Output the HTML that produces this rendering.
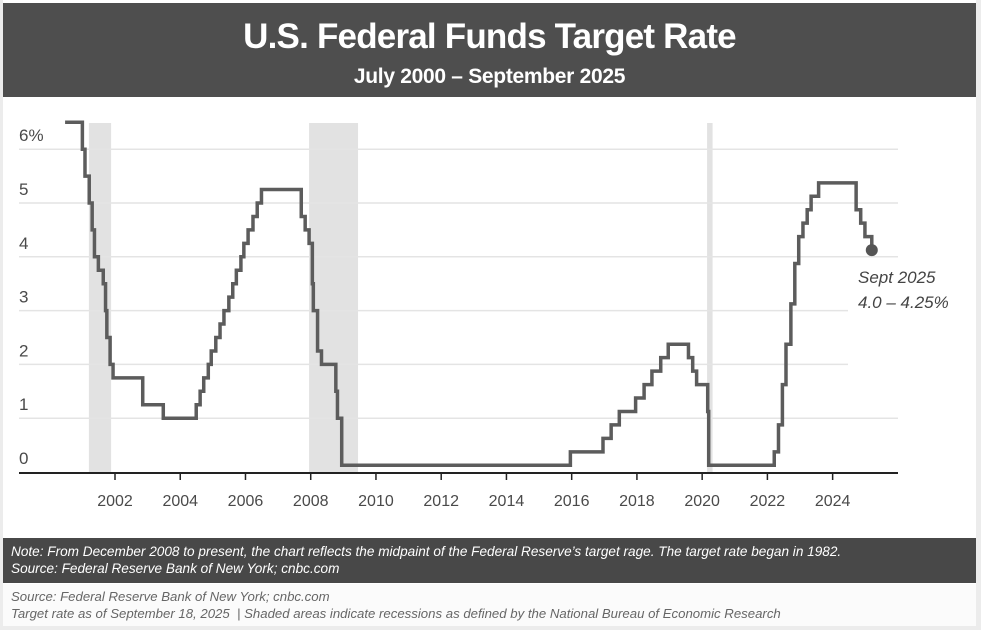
<!DOCTYPE html>
<html><head><meta charset="utf-8">
<style>
html,body{margin:0;padding:0;}
body{width:981px;height:630px;background:#ececec;position:relative;overflow:hidden;font-family:"Liberation Sans",sans-serif;}
#panel{position:absolute;left:3px;top:0;width:973px;height:626px;background:#fff;}
#header{position:absolute;left:3px;top:3px;width:973px;height:94px;background:#4e4e4e;color:#fff;text-align:center;}
#title{font-family:"Liberation Sans Narrow","Liberation Sans",sans-serif;font-weight:bold;font-size:35px;position:absolute;top:14px;width:100%;letter-spacing:-0.8px;}
#subtitle{font-family:"Liberation Sans Narrow","Liberation Sans",sans-serif;font-weight:bold;font-size:21px;position:absolute;top:62px;width:100%;letter-spacing:-0.3px;}
#note{position:absolute;left:3px;top:538px;width:973px;height:45px;background:#484848;color:#fff;font-family:"Liberation Sans Narrow","Liberation Sans",sans-serif;font-style:italic;font-size:13.6px;line-height:17px;}
#note div{padding-left:8px;white-space:nowrap;}
#foot{position:absolute;left:3px;top:584px;width:973px;height:42px;background:#fbfbfb;color:#666;font-family:"Liberation Sans Narrow","Liberation Sans",sans-serif;font-style:italic;font-size:13.2px;line-height:17px;}
#foot div{padding-left:8px;white-space:nowrap;}
svg{position:absolute;left:0;top:0;}
</style></head>
<body>
<div id="panel"></div>
<div id="header">
  <div id="title">U.S. Federal Funds Target Rate</div>
  <div id="subtitle">July 2000 – September 2025</div>
</div>
<svg id="chart" width="981" height="630"></svg>
<div id="note">
  <div style="padding-top:5px">Note: From December 2008 to present, the chart reflects the midpaint of the Federal Reserve’s target rage. The target rate began in 1982.</div>
  <div>Source: Federal Reserve Bank of New York; cnbc.com</div>
</div>
<div id="foot">
  <div style="padding-top:4px">Source: Federal Reserve Bank of New York; cnbc.com</div>
  <div>Target rate as of September 18, 2025 &nbsp;| Shaded areas indicate recessions as defined by the National Bureau of Economic Research</div>
</div>
<script>
const yTicks = [0,1,2,3,4,5,6];
const yTickLabels = ["0","1","2","3","4","5","6%"];
const xTicks = [2002,2004,2006,2008,2010,2012,2014,2016,2018,2020,2022,2024];
const recessionStarts = [2001.2, 2007.95, 2020.15];
const recessionEnds = [2001.88, 2009.45, 2020.32];
const dates = [2000.47,2001.0,2001.08,2001.21,2001.3,2001.37,2001.49,2001.64,2001.71,2001.75,2001.85,2001.94,2002.85,2003.48,2004.49,2004.61,2004.72,2004.86,2004.95,2005.09,2005.22,2005.34,2005.49,2005.61,2005.72,2005.86,2005.95,2006.08,2006.23,2006.36,2006.49,2007.71,2007.83,2007.95,2008.05,2008.08,2008.21,2008.33,2008.77,2008.82,2008.95,2015.96,2016.96,2017.21,2017.46,2017.96,2018.22,2018.46,2018.73,2018.96,2019.58,2019.71,2019.83,2020.17,2020.2,2022.21,2022.34,2022.46,2022.57,2022.72,2022.84,2022.96,2023.09,2023.22,2023.34,2023.57,2024.72,2024.86,2024.99,2025.2];
const rates = [6.5,6.0,5.5,5.0,4.5,4.0,3.75,3.5,3.0,2.5,2.0,1.75,1.25,1.0,1.25,1.5,1.75,2.0,2.25,2.5,2.75,3.0,3.25,3.5,3.75,4.0,4.25,4.5,4.75,5.0,5.25,4.75,4.5,4.25,3.5,3.0,2.25,2.0,1.5,1.0,0.125,0.375,0.625,0.875,1.125,1.375,1.625,1.875,2.125,2.375,2.125,1.875,1.625,1.125,0.125,0.375,0.875,1.625,2.375,3.125,3.875,4.375,4.625,4.875,5.125,5.375,4.875,4.625,4.375,4.125];
const gridRight = [898,898,848,848,898,898,898];

const NS="http://www.w3.org/2000/svg";
const svg=document.getElementById('chart');
const X=y=>115+(y-2002)*32.62;
const Y=v=>472-v*53.8;
function mk(t,a){const e=document.createElementNS(NS,t);for(const k in a)e.setAttribute(k,a[k]);svg.appendChild(e);return e;}

for(let i=0;i<recessionStarts.length;i++){
  const r=mk('rect',{x:X(recessionStarts[i]),y:123,width:X(recessionEnds[i])-X(recessionStarts[i]),height:472-123,fill:'#e2e2e2'});
  
  
}
yTicks.forEach((v,i)=>{
  if(v>0){
    const g=mk('line',{x1:19,x2:gridRight[i],y1:Y(v),y2:Y(v),stroke:'#e4e4e4','stroke-width':1.5});
    
    
  }
  const t=mk('text',{x:19,y:Y(v)-8,fill:'#4a4a4a','font-size':17,'font-family':'Liberation Sans, sans-serif'});
  t.textContent=yTickLabels[i];
  
  
});
const ax=mk('line',{x1:19,x2:898,y1:473,y2:473,stroke:'#222','stroke-width':2});


xTicks.forEach(yr=>{
  const tk=mk('line',{x1:X(yr),x2:X(yr),y1:473,y2:480,stroke:'#222','stroke-width':1.5});
  
  
  const t=mk('text',{x:X(yr),y:506,'text-anchor':'middle',fill:'#4a4a4a','font-size':16,'font-family':'Liberation Sans, sans-serif'});
  t.textContent=yr;
  
  
});
let d='M'+X(dates[0])+','+Y(rates[0]);
for(let i=1;i<dates.length;i++){d+=' H'+X(dates[i])+' V'+Y(rates[i]);}
const p=mk('path',{d:d,fill:'none',stroke:'#5c5c5c','stroke-width':3.5,'stroke-linejoin':'miter'});


const li=dates.length-1;
const c=mk('circle',{cx:X(dates[li]),cy:Y(rates[li]),r:6,fill:'#555'});


const a1=mk('text',{x:858,y:283,fill:'#444','font-size':17,'font-style':'italic','font-family':'Liberation Sans, sans-serif'});
a1.textContent='Sept 2025';


const a2=mk('text',{x:858,y:308,fill:'#444','font-size':17,'font-style':'italic','font-family':'Liberation Sans, sans-serif'});
a2.textContent='4.0 – 4.25%';


</script>
</body></html>
